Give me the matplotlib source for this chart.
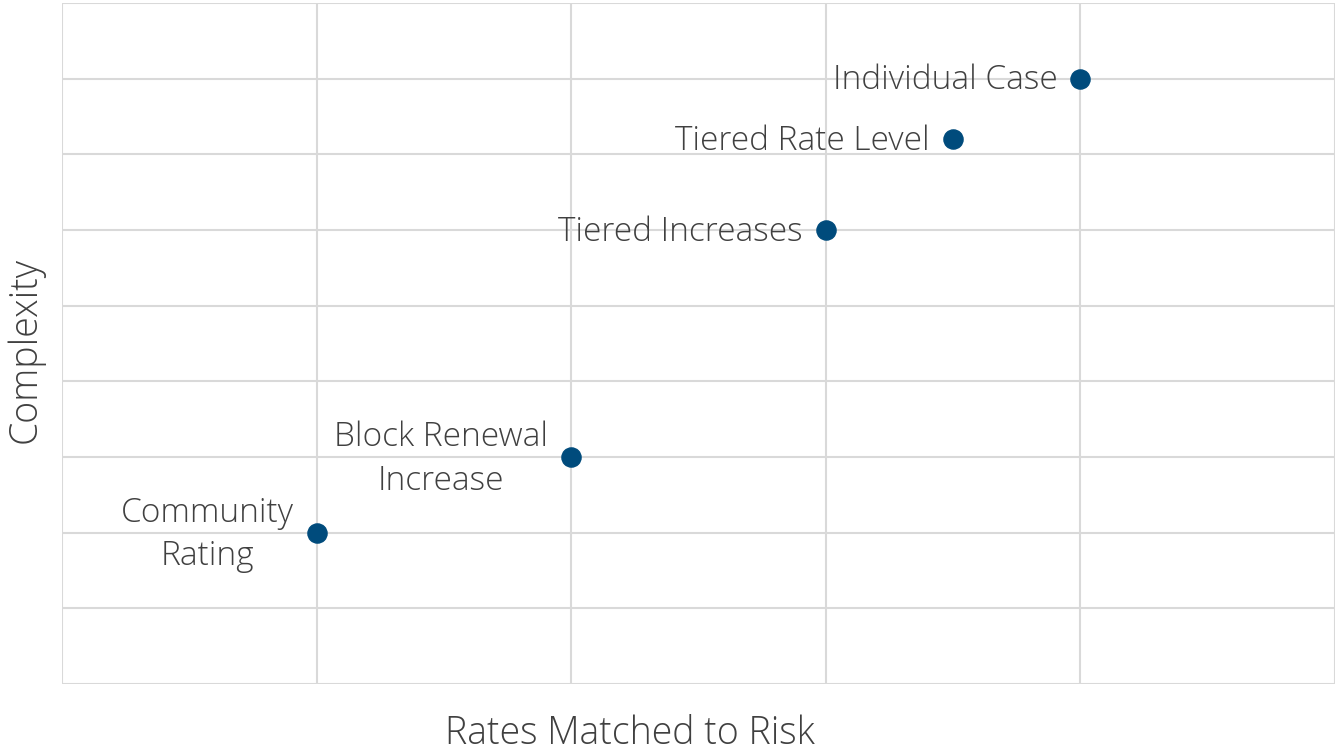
import matplotlib.pyplot as plt

# data
labels = ['Community\nRating', 'Block Renewal\nIncrease', 'Tiered Increases',
          'Tiered Rate Level', 'Individual Case']
risk = [1, 2, 3, 3.5, 4]
complexity = [2, 3, 6, 7.2, 8]

plt.rcParams['font.family'] = ['Open Sans', 'DejaVu Sans']
txt_col = '#404040'
grid_col = '#d9d9d9'

fig = plt.figure(figsize=(13.36, 7.54), dpi=100)
ax = fig.add_axes([62 / 1336, 70 / 754, 1273 / 1336, 681 / 754])

ax.set_xlim(0, 5)
ax.set_ylim(0, 9)
ax.set_xticks(range(0, 6))
ax.set_yticks(range(0, 10))
ax.grid(True, color=grid_col, linewidth=1.5)
ax.set_axisbelow(True)
ax.tick_params(length=0, labelbottom=False, labelleft=False)
for s in ax.spines.values():
    s.set_visible(False)

ax.scatter(risk, complexity, s=190, color='#004b7c', zorder=3, clip_on=False)

for x, y, lab in zip(risk, complexity, labels):
    ax.annotate(lab, (x, y), xytext=(-23, -2), textcoords='offset pixels',
                ha='right', va='center', multialignment='center',
                fontsize=24, color=txt_col, fontweight='light', linespacing=1.4)

fig.text(630 / 1336, 20 / 754, 'Rates Matched to Risk', ha='center', va='center',
         fontsize=27, color=txt_col, fontweight='light')
fig.text(25 / 1336, 404 / 754, 'Complexity', ha='center', va='center',
         rotation=90, fontsize=27, color=txt_col, fontweight='light')

fig.savefig('out.png', dpi=100, facecolor='white')
